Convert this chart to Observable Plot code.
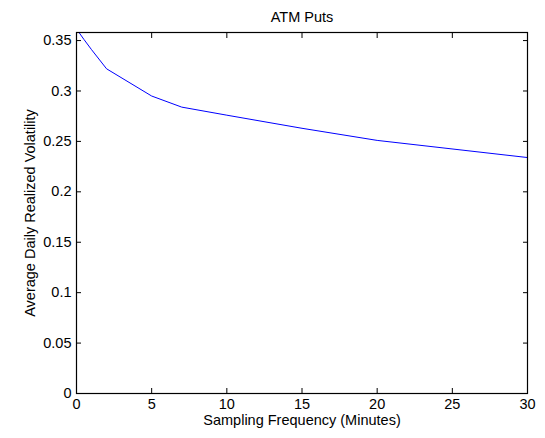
<!DOCTYPE html>
<html>
<head>
<meta charset="utf-8">
<script src="https://cdn.jsdelivr.net/npm/d3@7"></script>
<script src="https://cdn.jsdelivr.net/npm/@observablehq/plot@0.6"></script>
<style>
  html, body { margin: 0; padding: 0; background: #fff; }
  #chart { width: 545px; height: 438px; }
</style>
</head>
<body>
<div id="chart"></div>
<script>
const minutes = [1/6, 0.5, 1, 2, 5, 7, 10, 15, 20, 30];
const volatility = [0.358, 0.351, 0.341, 0.322, 0.295, 0.284, 0.276, 0.263, 0.251, 0.234];
const xTicks = [0, 5, 10, 15, 20, 25, 30];
const yTicks = [0, 0.05, 0.1, 0.15, 0.2, 0.25, 0.3, 0.35];
const title = "ATM Puts";
const xLabel = "Sampling Frequency (Minutes)";
const yLabel = "Average Daily Realized Volatility";

const data = minutes.map((m, i) => ({m, v: volatility[i]}));
const font = "Liberation Sans, Arial, Helvetica, sans-serif";

const chart = Plot.plot({
  width: 545,
  height: 438,
  marginLeft: 76,
  marginRight: 18,
  marginTop: 32,
  marginBottom: 45,
  style: {fontFamily: font, fontSize: "14.5px", color: "#000", background: "#fff"},
  x: {domain: [0, 30]},
  y: {domain: [0, 0.358]},
  marks: [
    Plot.line(data, {x: "m", y: "v", stroke: "#0000ff", strokeWidth: 1}),
    Plot.axisX({anchor: "bottom", ticks: xTicks, tickSize: -5, tickPadding: 10, tickFormat: d => String(d), label: null, fontSize: 14.5}),
    Plot.axisX({anchor: "top", ticks: xTicks, tickSize: -5, tickFormat: () => "", label: null}),
    Plot.axisY({anchor: "left", ticks: yTicks, tickSize: -5, tickPadding: 10, tickFormat: d => String(d), label: null, fontSize: 14.5}),
    Plot.axisY({anchor: "right", ticks: yTicks, tickSize: -5, tickFormat: () => "", label: null}),
    Plot.frame({stroke: "#000", strokeWidth: 1.2}),
    Plot.text([title], {frameAnchor: "top", dy: -21, text: d => d, fontSize: 14.5}),
    Plot.text([xLabel], {frameAnchor: "bottom", dy: 31, text: d => d, fontSize: 14.5}),
    Plot.text([yLabel], {frameAnchor: "left", dx: -46, rotate: -90, textAnchor: "middle", text: d => d, fontSize: 14.5})
  ]
});
document.getElementById("chart").appendChild(chart);
</script>
</body>
</html>
